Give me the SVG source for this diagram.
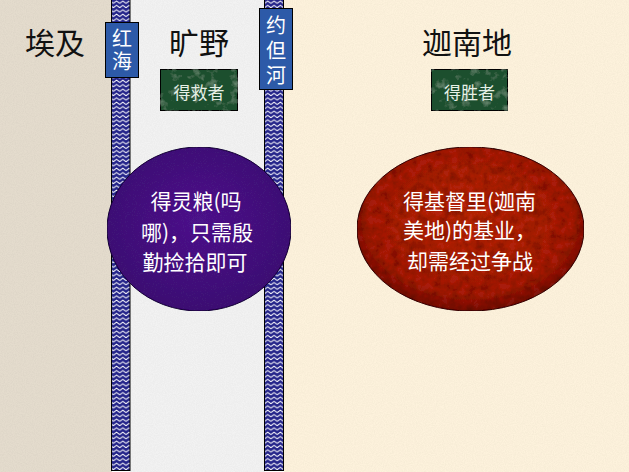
<svg xmlns="http://www.w3.org/2000/svg" width="629" height="472" viewBox="0 0 629 472">
<style>
.title{font-family:"Noto Sans CJK SC","Noto Sans",sans-serif;font-size:30px;fill:#111;text-anchor:middle;dominant-baseline:central}
.lbl{font-family:"Noto Sans CJK SC","Noto Sans",sans-serif;font-size:20px;fill:#fff;writing-mode:vertical-rl;text-anchor:start}
.tag{font-family:"Noto Sans CJK SC","Noto Sans",sans-serif;font-size:17px;fill:#e6f0e6;text-anchor:middle;dominant-baseline:central}
.body{font-family:"Noto Sans CJK SC","Noto Sans",sans-serif;font-size:21px;fill:#fff;dominant-baseline:central}
.box{fill:#2d5aa8;stroke:#000;stroke-width:1}
.green{fill:#1b4f2e;stroke:#000;stroke-width:1}
.strip{fill:url(#zig);stroke:#000;stroke-width:1}
</style>
<defs>
<pattern id="zig" x="0" y="0" width="6.3" height="4.4" patternUnits="userSpaceOnUse">
<rect width="6.3" height="4.4" fill="#24248a"/>
<path d="M0,3.3 L3.15,1 L6.3,3.3" fill="none" stroke="#fff" stroke-width="1"/>
</pattern>
<filter id="grain" x="0" y="0" width="100%" height="100%">
<feTurbulence type="fractalNoise" baseFrequency="0.9" numOctaves="2" seed="4" result="n"/>
<feColorMatrix in="n" type="matrix" values="0 0 0 0 0  0 0 0 0 0  0 0 0 0 0  0 0 0 0.12 -0.04" result="d"/>
<feComposite in="d" in2="SourceGraphic" operator="in" result="d2"/>
<feMerge><feMergeNode in="SourceGraphic"/><feMergeNode in="d2"/></feMerge>
</filter>
<filter id="mottle" x="0" y="0" width="100%" height="100%">
<feTurbulence type="fractalNoise" baseFrequency="0.12" numOctaves="4" seed="7" result="n"/>
<feColorMatrix in="n" type="matrix" values="0 0 0 0 0  0 0 0 0 0  0 0 0 0 0  0 0 0 0.9 -0.3" result="d"/>
<feComposite in="d" in2="SourceGraphic" operator="in" result="d2"/>
<feMerge><feMergeNode in="SourceGraphic"/><feMergeNode in="d2"/></feMerge>
</filter>
<filter id="marble" x="0" y="0" width="100%" height="100%">
<feTurbulence type="fractalNoise" baseFrequency="0.1" numOctaves="4" seed="2" result="n"/>
<feColorMatrix in="n" type="matrix" values="0 0 0 0 0.5  0 0 0 0 0.75  0 0 0 0 0.55  0 0 0 0.7 -0.38" result="d"/>
<feComposite in="d" in2="SourceGraphic" operator="in" result="d2"/>
<feMerge><feMergeNode in="SourceGraphic"/><feMergeNode in="d2"/></feMerge>
</filter>
<radialGradient id="redg" cx="0.5" cy="0.45" r="0.55">
<stop offset="0" stop-color="#b8260e"/>
<stop offset="0.8" stop-color="#a81e0c"/>
<stop offset="1" stop-color="#7a1208"/>
</radialGradient>
<radialGradient id="purg" cx="0.5" cy="0.45" r="0.55">
<stop offset="0" stop-color="#4e1a8c"/>
<stop offset="1" stop-color="#3e1274"/>
</radialGradient>
</defs>

<g id="regions">
<rect id="egypt-bg" x="0" y="0" width="112" height="472" fill="#e4dccd" filter="url(#grain)"/>
<rect id="wild-bg" x="130" y="0" width="135" height="472" fill="#f2f2f2" filter="url(#grain)"/>
<rect id="canaan-bg" x="284" y="0" width="345" height="472" fill="#fdf2dc" filter="url(#grain)"/>
<rect id="red-sea-strip" class="strip" x="111.5" y="-1" width="18.5" height="471.5"/>
<rect id="jordan-strip" class="strip" x="264.5" y="-1" width="19" height="471.5"/>
</g>

<g id="egypt"><text class="title" x="55" y="41">埃及</text></g>
<g id="wilderness"><text class="title" x="199" y="41">旷野</text></g>
<g id="canaan"><text class="title" x="467" y="41">迦南地</text></g>

<g id="red-sea">
<rect class="box" x="105.5" y="22.5" width="33" height="55"/>
<text class="lbl" x="122" y="28" letter-spacing="3">红海</text>
</g>
<g id="jordan">
<rect class="box" x="259.5" y="8.5" width="33" height="81"/>
<text class="lbl" x="276" y="15" letter-spacing="5">约但河</text>
</g>

<g id="saved">
<rect class="green" x="160.5" y="69.5" width="77" height="41" filter="url(#marble)"/>
<text class="tag" x="199" y="91">得救者</text>
</g>
<g id="victor">
<rect class="green" x="431.5" y="69.5" width="76" height="41" filter="url(#marble)"/>
<text class="tag" x="469.5" y="91">得胜者</text>
</g>

<g id="manna">
<ellipse cx="199" cy="229" rx="92" ry="82" fill="url(#purg)" stroke="#1a0838" stroke-width="1" filter="url(#grain)"/>
<text class="body" x="196" y="200" text-anchor="middle">得灵粮(吗</text>
<text class="body" x="197" y="231" text-anchor="middle">哪)，只需殷</text>
<text class="body" x="195" y="261" text-anchor="middle">勤捡拾即可</text>
</g>
<g id="inheritance">
<ellipse cx="470.5" cy="229" rx="113.5" ry="82" fill="url(#redg)" stroke="#3a0a04" stroke-width="1" filter="url(#mottle)"/>
<text class="body" x="403" y="200">得基督里(迦南</text>
<text class="body" x="403" y="229">美地)的基业，</text>
<text class="body" x="407" y="260">却需经过争战</text>
</g>

<g id="connectors"></g>
</svg>
